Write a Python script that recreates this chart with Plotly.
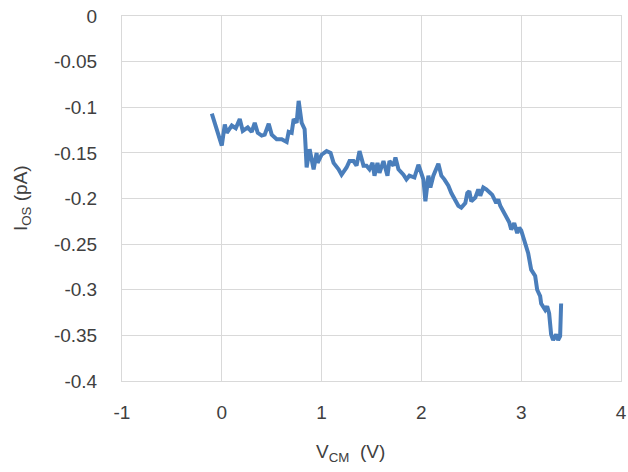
import plotly.graph_objects as go

vcm = [-0.10, -0.05, 0.00, 0.03, 0.05, 0.10, 0.14, 0.18, 0.21, 0.26, 0.30, 0.33, 0.36, 0.40,
       0.43, 0.47, 0.50, 0.55, 0.60, 0.65, 0.67, 0.70, 0.72, 0.75, 0.77, 0.80, 0.83, 0.84,
       0.85, 0.88, 0.92, 0.95, 0.96, 1.00, 1.05, 1.09, 1.12, 1.17, 1.20, 1.25, 1.28, 1.32,
       1.35, 1.38, 1.42, 1.45, 1.48, 1.51, 1.53, 1.56, 1.58, 1.62, 1.66, 1.68, 1.72, 1.74,
       1.77, 1.82, 1.85, 1.88, 1.93, 1.97, 2.00, 2.02, 2.04, 2.07, 2.09, 2.12, 2.17, 2.20,
       2.23, 2.27, 2.30, 2.33, 2.37, 2.40, 2.44, 2.46, 2.48, 2.50, 2.54, 2.57, 2.59, 2.62,
       2.65, 2.69, 2.71, 2.75, 2.77, 2.79, 2.82, 2.85, 2.88, 2.90, 2.93, 2.96, 2.98, 3.00,
       3.04, 3.07, 3.10, 3.14, 3.16, 3.19, 3.20, 3.24, 3.26, 3.28, 3.30, 3.32, 3.35, 3.37,
       3.39, 3.40]
ios = [-0.107, -0.124, -0.142, -0.119, -0.128, -0.120, -0.123, -0.113, -0.126, -0.122,
       -0.127, -0.117, -0.128, -0.131, -0.130, -0.118, -0.130, -0.135, -0.135, -0.138,
       -0.127, -0.128, -0.113, -0.117, -0.093, -0.117, -0.124, -0.144, -0.166, -0.146,
       -0.168, -0.150, -0.161, -0.152, -0.148, -0.150, -0.161, -0.168, -0.174, -0.166,
       -0.159, -0.159, -0.164, -0.148, -0.164, -0.164, -0.168, -0.161, -0.175, -0.161,
       -0.172, -0.159, -0.175, -0.159, -0.164, -0.155, -0.168, -0.174, -0.179, -0.175,
       -0.177, -0.163, -0.175, -0.179, -0.203, -0.175, -0.188, -0.175, -0.162, -0.175,
       -0.179, -0.186, -0.194, -0.201, -0.208, -0.210, -0.205, -0.194, -0.192, -0.203,
       -0.199, -0.190, -0.197, -0.188, -0.190, -0.194, -0.196, -0.205, -0.201, -0.208,
       -0.214, -0.219, -0.226, -0.234, -0.227, -0.238, -0.232, -0.235, -0.249, -0.260,
       -0.278, -0.285, -0.300, -0.307, -0.315, -0.322, -0.318, -0.326, -0.349, -0.355,
       -0.349, -0.355, -0.351, -0.315]

x_tickvals = [-1, 0, 1, 2, 3, 4]
x_ticktext = ["-1", "0", "1", "2", "3", "4"]
y_tickvals = [0, -0.05, -0.1, -0.15, -0.2, -0.25, -0.3, -0.35, -0.4]
y_ticktext = ["0", "-0.05", "-0.1", "-0.15", "-0.2", "-0.25", "-0.3", "-0.35", "-0.4"]

FONT = "Arial, Liberation Sans, sans-serif"
TXT = "#404040"
GRID = "#d9d9d9"

fig = go.Figure()
fig.add_trace(go.Scatter(x=vcm, y=ios, mode="lines",
                         line=dict(color="#4a7ebb", width=4), showlegend=False))

fig.update_layout(
    width=628, height=472,
    margin=dict(l=122, r=7, t=16, b=91),
    paper_bgcolor="white", plot_bgcolor="white",
    font=dict(family=FONT, size=19, color=TXT),
    xaxis=dict(range=[-1, 4], tickvals=x_tickvals, ticktext=x_ticktext,
               automargin=False,
               showgrid=True, gridcolor=GRID, gridwidth=1, zeroline=False,
               showline=True, linecolor=GRID, linewidth=1, mirror=True,
               ticks="outside", ticklen=14, tickcolor="rgba(0,0,0,0)",
               tickfont=dict(family=FONT, size=19, color=TXT)),
    yaxis=dict(range=[-0.4, 0], tickvals=y_tickvals, ticktext=y_ticktext,
               automargin=False,
               showgrid=True, gridcolor=GRID, gridwidth=1, zeroline=False,
               showline=True, linecolor=GRID, linewidth=1, mirror=True,
               ticks="outside", ticklen=20, tickcolor="rgba(0,0,0,0)",
               tickfont=dict(family=FONT, size=19, color=TXT)),
    annotations=[
        dict(text="V<sub>CM</sub>  (V)", xref="paper", yref="paper",
             x=(350 - 122) / 499, y=(381 - 453) / 365, xanchor="center", yanchor="middle",
             showarrow=False, font=dict(family=FONT, size=19, color=TXT)),
        dict(text="I<sub>OS</sub> (pA)", xref="paper", yref="paper",
             x=(22 - 122) / 499, y=(381 - 198) / 365, xanchor="center", yanchor="middle",
             textangle=-90, showarrow=False, font=dict(family=FONT, size=19, color=TXT)),
    ],
)

fig.write_html("out.html",
               config={"displayModeBar": False, "responsive": False},
               post_script="document.body.style.margin='0';document.body.style.overflow='hidden';")
